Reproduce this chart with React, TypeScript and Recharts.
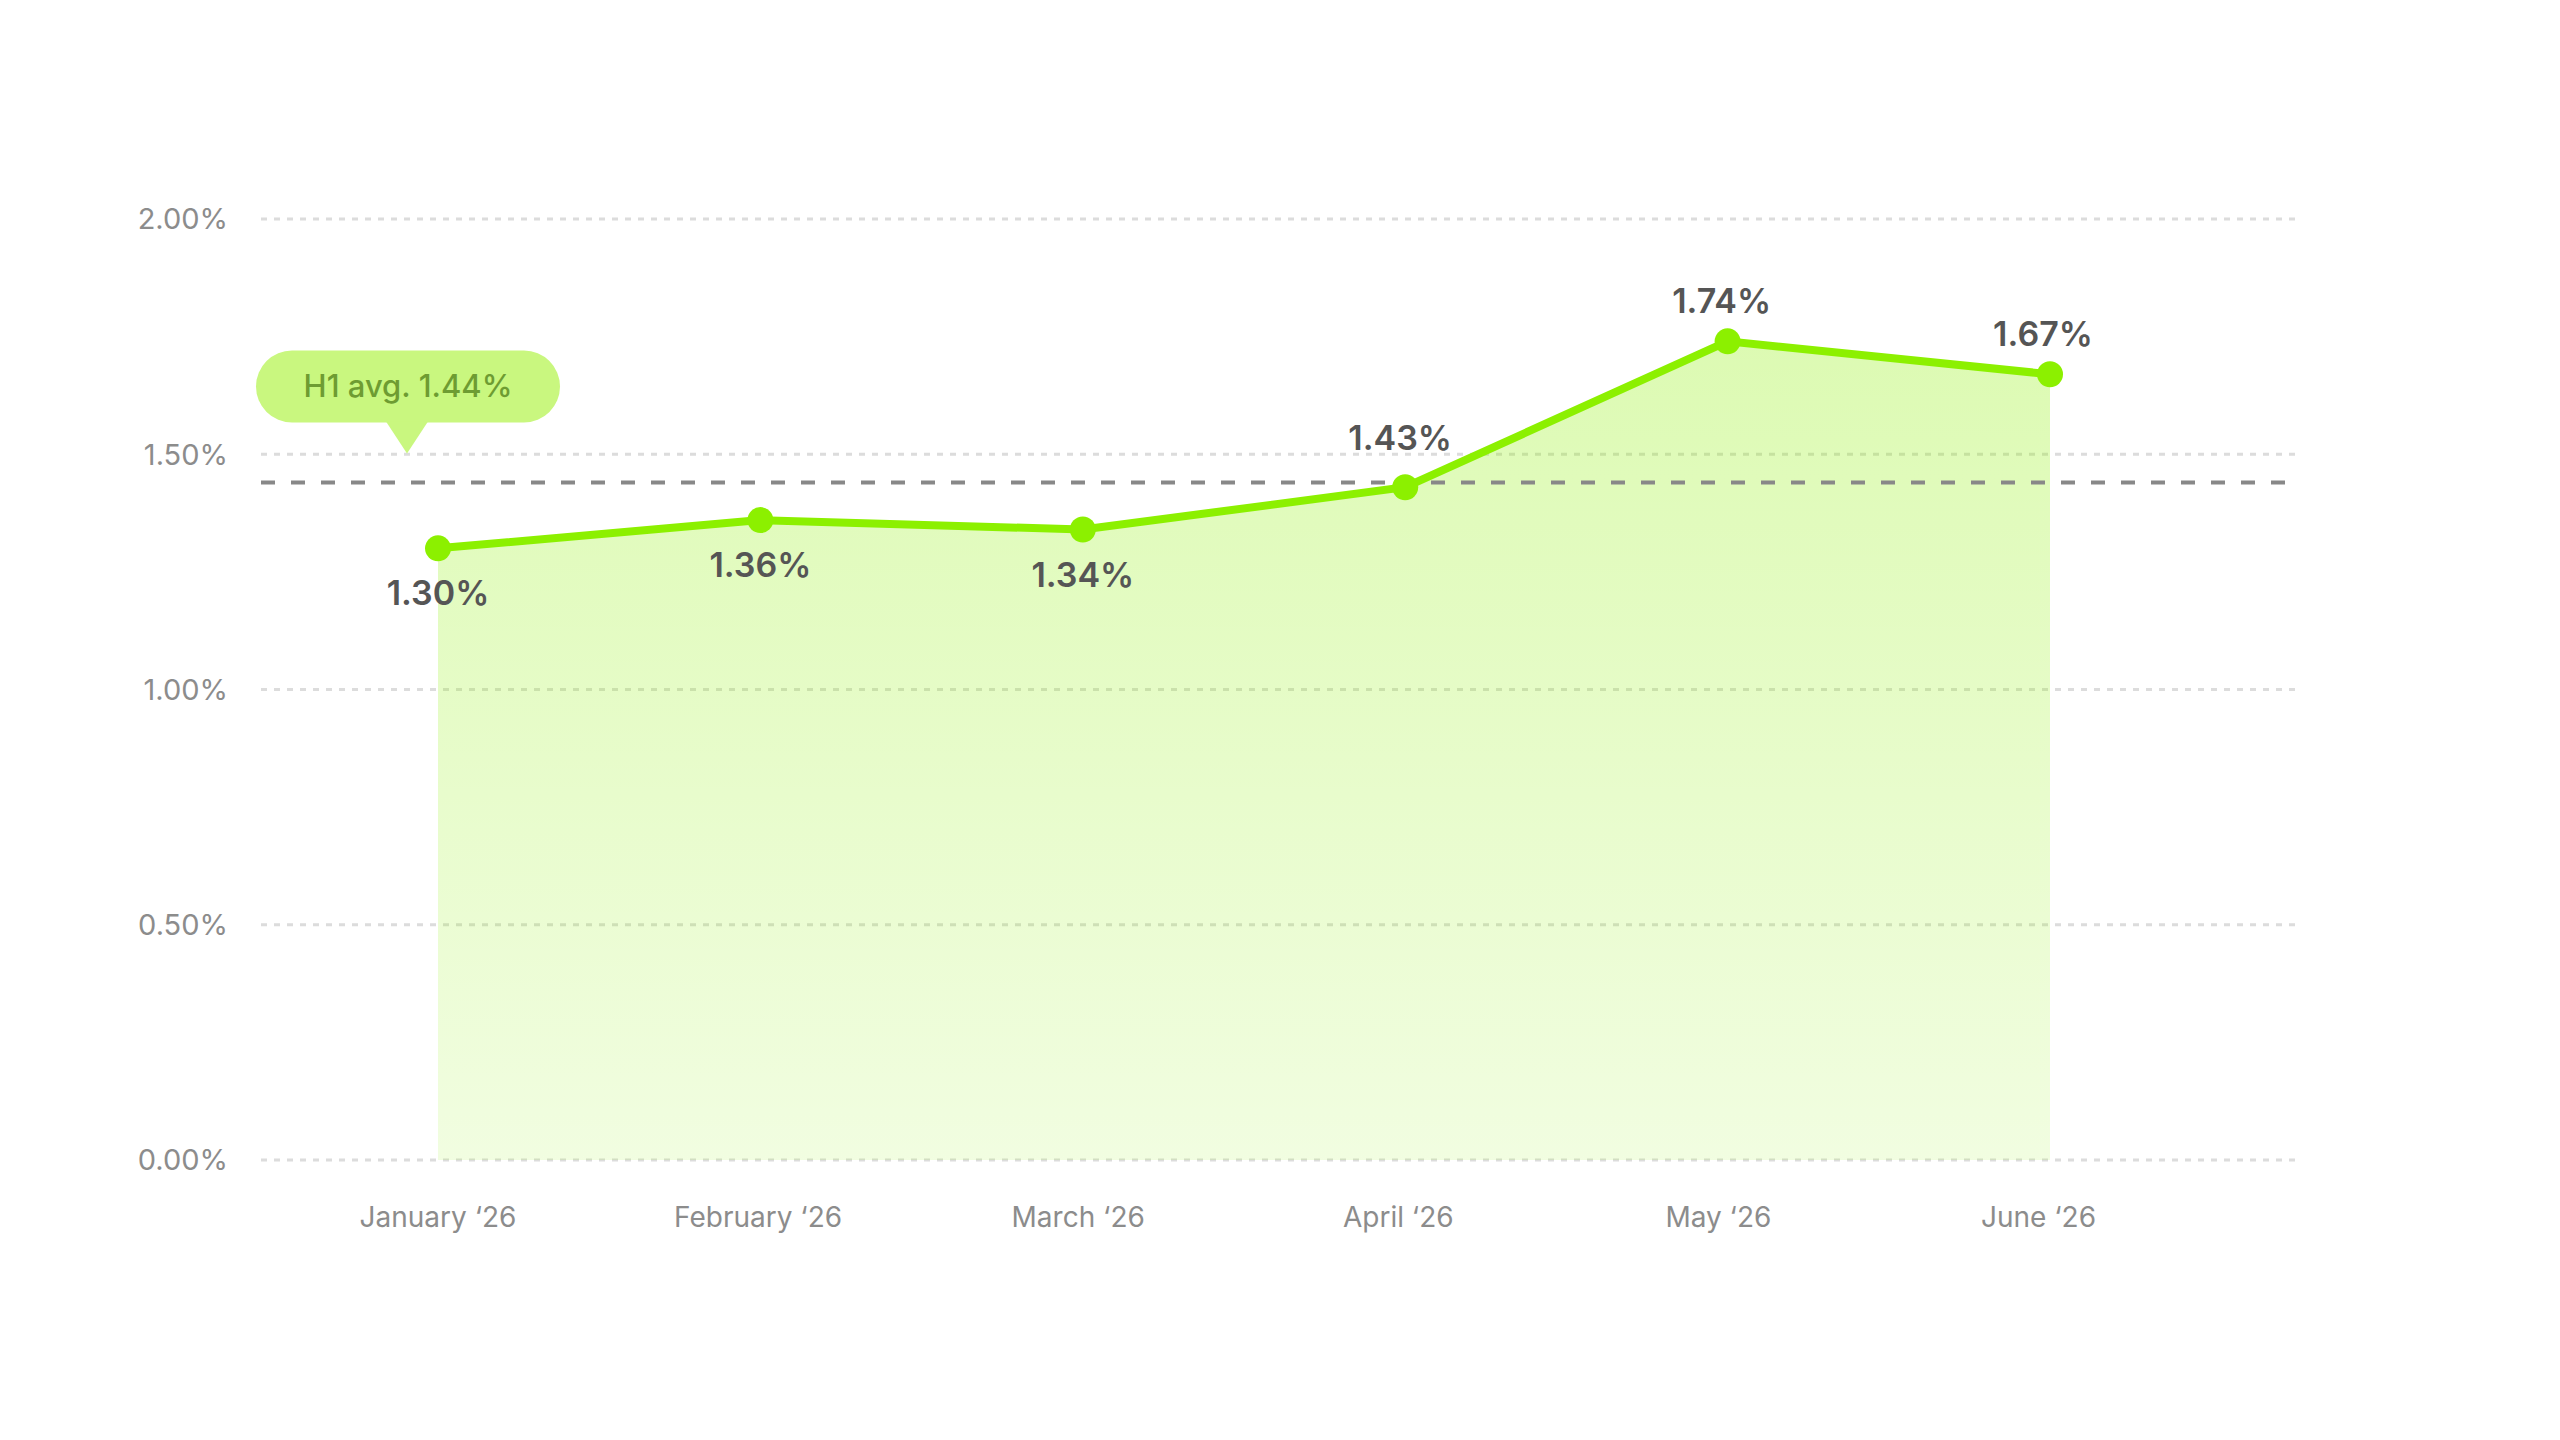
import { ComposedChart, Area, XAxis, YAxis, CartesianGrid, ReferenceLine } from 'recharts';

const months = ['January ‘26', 'February ‘26', 'March ‘26', 'April ‘26', 'May ‘26', 'June ‘26'];
const rates = [1.3, 1.36, 1.34, 1.43, 1.74, 1.67];
const yTicks = [0, 0.5, 1, 1.5, 2];
const h1Average = 1.44;

const data = months.map((m, i) => ({ month: m, rate: rates[i] }));

const GREEN = '#8cf000';
const FONT = 'Inter, "Noto Sans", sans-serif';

function PointLabel(props: any) {
  const { x, y, value, index } = props;
  const above = value >= 1.4;
  const nearAvg = Math.abs(value - h1Average) < 0.05;
  const ty = above ? y - (nearAvg ? 37 : 28) : y + 57;
  return (
    <text
      x={above ? x - 2 - index : x}
      y={ty}
      textAnchor="middle"
      fontFamily={FONT}
      fontSize={34}
      fontWeight={600}
      fill="#555555"
    >
      {value.toFixed(2)}%
    </text>
  );
}

// month labels drift slightly left of their points in the original
function MonthTick(props: any) {
  const { x, y, payload, index } = props;
  return (
    <text
      x={x - index * 2.3}
      y={y}
      dy="0.71em"
      textAnchor="middle"
      fontFamily={FONT}
      fontSize={28}
      fill="#8c8c8c"
    >
      {payload.value}
    </text>
  );
}

function AvgCallout(props: any) {
  const { viewBox } = props;
  if (!viewBox) return null;
  const vx = viewBox.x;
  const vy = viewBox.y;
  return (
    <g>
      <rect x={vx - 5} y={vy - 132} width={304} height={72} rx={36} fill="#c9f77f" />
      <polygon points={`${vx + 125},${vy - 61} ${vx + 167},${vy - 61} ${vx + 146},${vy - 29}`} fill="#c9f77f" />
      <text
        x={vx + 147}
        y={vy - 85}
        textAnchor="middle"
        fontFamily={FONT}
        fontSize={31}
        fontWeight={500}
        fill="#6e9c32"
      >
        H1 avg. {h1Average.toFixed(2)}%
      </text>
    </g>
  );
}

export default function App() {
  return (
    <div style={{ position: 'absolute', left: 0, top: 0, width: 2560, height: 1440, background: '#fff' }}>
      <ComposedChart
        width={2560}
        height={1440}
        data={data}
        margin={{ top: 219, right: 263, left: 0, bottom: 250 }}
      >
        <defs>
          <linearGradient id="rateFill" x1="0" y1="0" x2="0" y2="1">
            <stop offset="0%" stopColor={GREEN} stopOpacity={0.3} />
            <stop offset="100%" stopColor={GREEN} stopOpacity={0.12} />
          </linearGradient>
        </defs>
        <CartesianGrid vertical={false} stroke="#dcdcdc" strokeWidth={3} strokeDasharray="6 7" />
        <XAxis
          dataKey="month"
          axisLine={false}
          tickLine={false}
          height={30}
          tickMargin={41}
          padding={{ left: 177, right: 247 }}
          tick={<MonthTick />}
        />
        <YAxis
          domain={[0, 2]}
          ticks={yTicks}
          width={261}
          axisLine={false}
          tickLine={false}
          tickMargin={27}
          tickFormatter={(v: number) => `${v.toFixed(2)}%`}
          tick={{ fontFamily: FONT, fontSize: 29, fill: '#8c8c8c' }}
        />
        <Area
          type="linear"
          dataKey="rate"
          stroke={GREEN}
          strokeWidth={8}
          fill="url(#rateFill)"
          fillOpacity={1}
          dot={{ r: 13, fill: GREEN, stroke: 'none' }}
          activeDot={false}
          label={<PointLabel />}
          isAnimationActive={false}
        />
        <ReferenceLine
          y={h1Average}
          stroke="#888888"
          strokeWidth={4}
          strokeDasharray="14 16"
          label={(p: any) => <AvgCallout {...p} />}
        />
      </ComposedChart>
    </div>
  );
}
